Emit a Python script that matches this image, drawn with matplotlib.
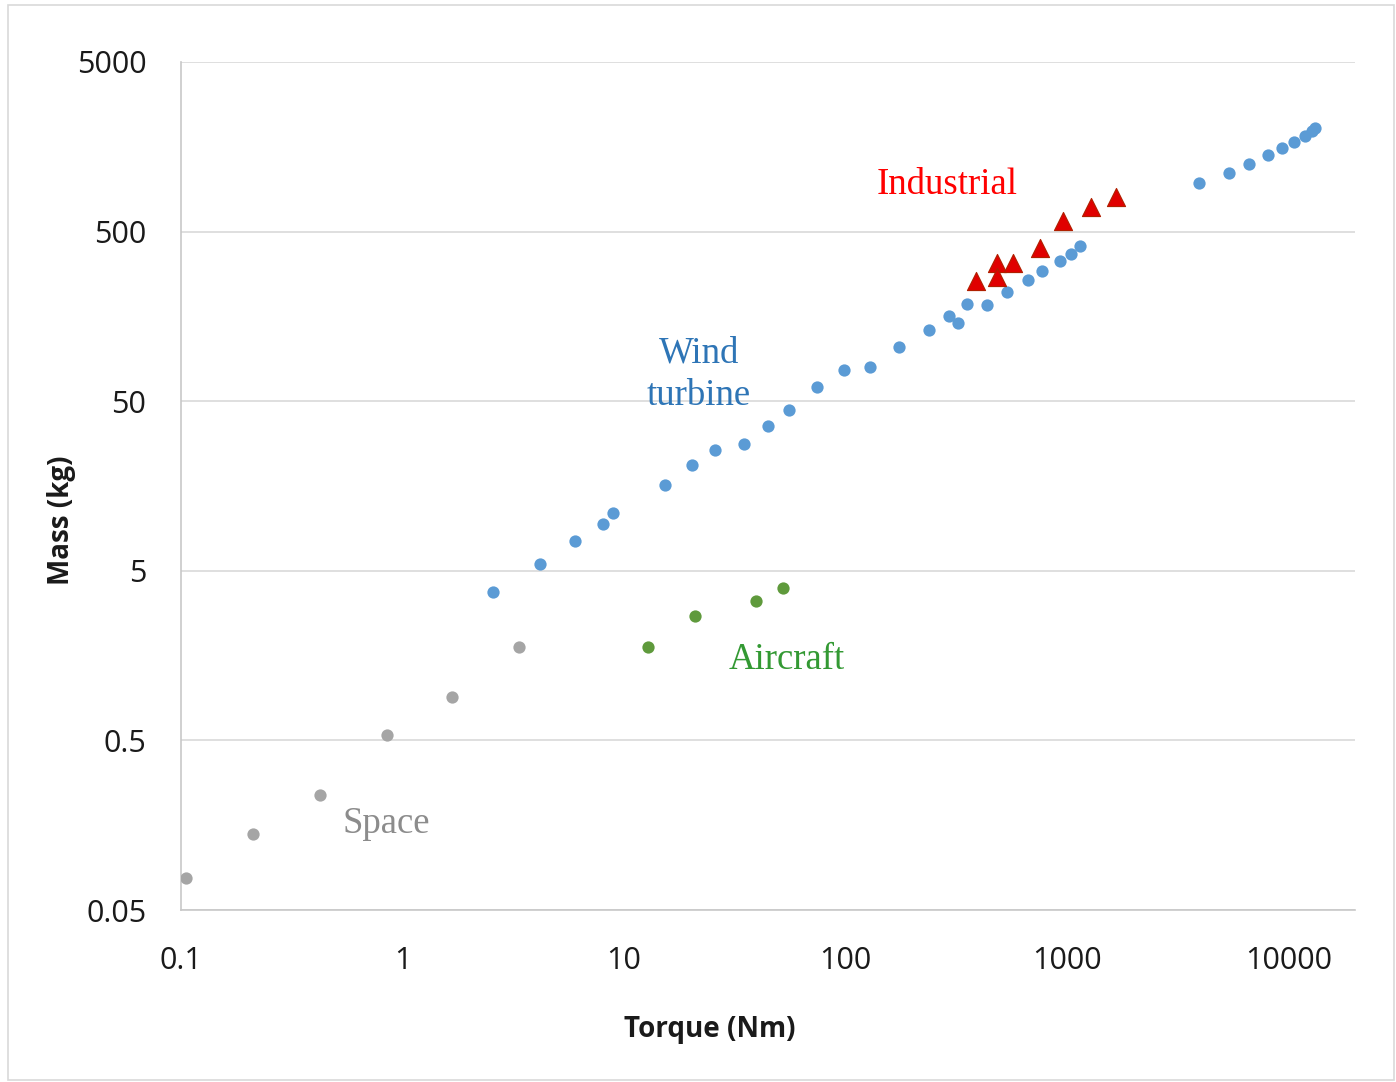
import numpy as np
import matplotlib.pyplot as plt
from matplotlib.patches import Rectangle
from matplotlib.ticker import FixedLocator, NullLocator

# Torque (Nm) and mass (kg) per application group
space_torque = [0.105, 0.211, 0.424, 0.851, 1.67, 3.35]
space_mass = [0.077, 0.140, 0.238, 0.538, 0.90, 1.78]

aircraft_torque = [12.8, 20.9, 39.3, 52.1]
aircraft_mass = [1.78, 2.71, 3.32, 3.96]

wind_torque = [2.56, 4.17, 6.00, 8.02, 8.90, 15.3, 20.2, 25.7, 34.7, 44.6,
               55.4, 74.1, 98.2, 128.6, 174, 237, 292, 321, 352, 434,
               534, 664, 767, 926, 1038, 1140, 3926, 5358, 6592, 8035,
               9290, 10540, 11810, 12700, 13100]
wind_mass = [3.75, 5.48, 7.50, 9.44, 10.96, 16.0, 21.0, 25.8, 28.0, 35.7,
             44.4, 60.7, 76.4, 79.6, 104, 132, 159, 145, 187, 184,
             220, 259, 293, 336, 369, 411, 968, 1109, 1253, 1416,
             1557, 1688, 1832, 1959, 2041]

industrial_torque = [387, 481, 481, 569, 752, 955, 1277, 1656]
industrial_mass = [256, 327, 270, 327, 400, 577, 698, 800]

x_ticks = [0.1, 1, 10, 100, 1000, 10000]
x_tick_labels = ['0.1', '1', '10', '100', '1000', '10000']
y_ticks = [0.05, 0.5, 5, 50, 500, 5000]
y_tick_labels = ['0.05', '0.5', '5', '50', '500', '5000']

W, H = 1396, 1082
fig = plt.figure(figsize=(W / 100, H / 100), dpi=100)
ax = fig.add_axes([181 / W, 1 - 910 / H, (1355 - 181) / W, (910 - 62) / H])

# thin outer frame around the chart area
fig.patches.append(Rectangle((8 / W, 2 / H), 1386 / W, 1075 / H,
                             transform=fig.transFigure, fill=False,
                             edgecolor='#d9d9d9', linewidth=1.2))

ax.set_xscale('log')
ax.set_yscale('log')
ax.set_xlim(0.1, 19900)
ax.set_ylim(0.05, 5000)

ax.xaxis.set_major_locator(FixedLocator(x_ticks))
ax.yaxis.set_major_locator(FixedLocator(y_ticks))
ax.xaxis.set_minor_locator(NullLocator())
ax.yaxis.set_minor_locator(NullLocator())
ax.set_xticklabels(x_tick_labels)
ax.set_yticklabels(y_tick_labels)
ax.tick_params(length=0, labelsize=22, colors='#1a1a1a')
ax.tick_params(axis='x', pad=26)
ax.tick_params(axis='y', pad=25)
for lab in ax.get_xticklabels() + ax.get_yticklabels():
    lab.set_family('Open Sans')

ax.grid(axis='y', color='#d9d9d9', linewidth=1.2)
ax.set_axisbelow(True)
for side in ['top', 'right']:
    ax.spines[side].set_visible(False)
for side in ['left', 'bottom']:
    ax.spines[side].set_color('#c8c8c8')
    ax.spines[side].set_linewidth(1.2)

ax.scatter(space_torque, space_mass, s=78, color='#a5a5a5', zorder=3, linewidths=0)
ax.scatter(aircraft_torque, aircraft_mass, s=78, color='#5f9a3c', zorder=3, linewidths=0)
ax.scatter(wind_torque, wind_mass, s=78, color='#5b9bd5', zorder=3, linewidths=0)
ax.scatter(industrial_torque, industrial_mass, s=170, marker='^', color='#e00000',
           edgecolors='#b02000', linewidths=0.8, zorder=4)

serif = 'Liberation Serif'
ax.text(21.8, 72, 'Wind\nturbine', color='#2e75b6', fontsize=26.5, family=serif,
        ha='center', va='center', linespacing=1.3)
ax.text(286, 940, 'Industrial', color='#ff0000', fontsize=26.5, family=serif,
        ha='center', va='center')
ax.text(54.3, 1.50, 'Aircraft', color='#339933', fontsize=26.5, family=serif,
        ha='center', va='center')
ax.text(0.84, 0.162, 'Space', color='#8c8c8c', fontsize=26.5, family=serif,
        ha='center', va='center')

# axis titles sit where the chart tool placed them, not centred on the axes
fig.text(710 / W, 1 - 1030 / H, 'Torque (Nm)', fontsize=20, fontweight='bold',
         family='Open Sans', color='#1a1a1a', ha='center', va='center')
fig.text(62 / W, 1 - 520 / H, 'Mass (kg)', fontsize=20, fontweight='bold',
         family='Open Sans', color='#1a1a1a', ha='center', va='center',
         rotation=90)

fig.savefig('out.png', dpi=100)
